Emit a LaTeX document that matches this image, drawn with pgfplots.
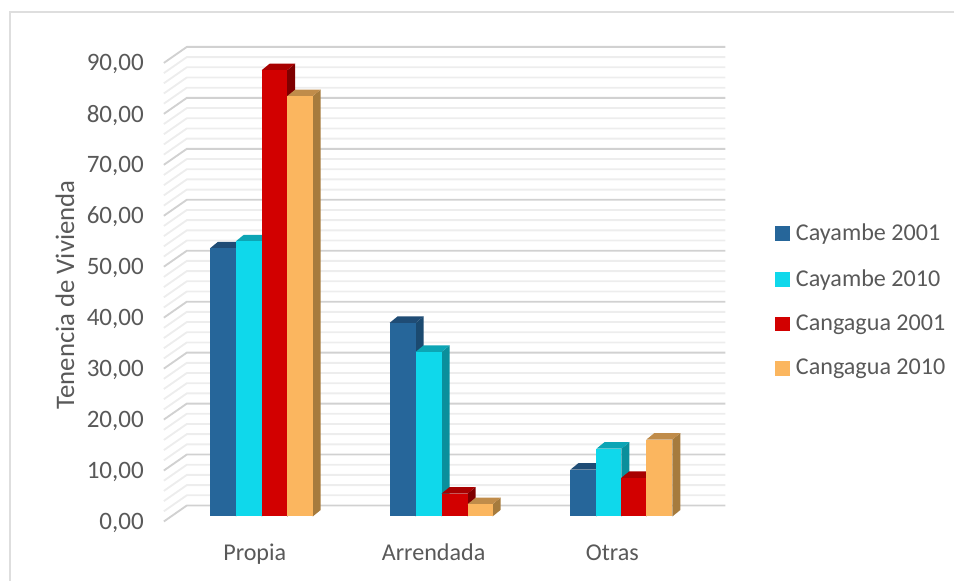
\documentclass[border=0pt]{standalone}
\usepackage{fontspec}
\setmainfont{Carlito}
\usepackage{pgfplots}
\pgfplotsset{compat=1.18}

\definecolor{txt}{HTML}{595959}
\definecolor{frontA}{HTML}{26669A}\definecolor{topA}{HTML}{1F4C75}\definecolor{sideA}{HTML}{1B4A70}
\definecolor{frontB}{HTML}{0FD8EB}\definecolor{topB}{HTML}{0CA5B5}\definecolor{sideB}{HTML}{0A8F9C}
\definecolor{frontC}{HTML}{D20000}\definecolor{topC}{HTML}{A80000}\definecolor{sideC}{HTML}{7F0000}
\definecolor{frontD}{HTML}{FBB65F}\definecolor{topD}{HTML}{C08C4A}\definecolor{sideD}{HTML}{A67B3D}

% x0, x1, value, series letter
\newcommand{\threedbar}[4]{%
  \pgfmathsetmacro{\xb}{#2+8}%
  \pgfmathsetmacro{\xa}{#1+8}%
  \pgfmathsetmacro{\vt}{#3+1.28}%
  \addplot[fill=side#4,draw=none,forget plot] coordinates {(#2,0) (#2,#3) (\xb,\vt) (\xb,1.28)} --cycle;
  \addplot[fill=top#4,draw=none,forget plot] coordinates {(#1,#3) (\xa,\vt) (\xb,\vt) (#2,#3)} --cycle;
  \addplot[fill=front#4,draw=none,forget plot] coordinates {(#1,0) (#1,#3) (#2,#3) (#2,0)} --cycle;
}

\begin{document}
\begin{tikzpicture}
\begin{axis}[
  scale only axis,width=716.25pt,height=436.5pt,
  xmin=0,xmax=955,ymin=-12.745,ymax=101.37,
  axis line style={draw=none},tick style={draw=none},
  axis x line*=bottom,axis y line*=left,
  clip=false,
  xtick={255,434,613},xticklabels={Propia,Arrendada,Otras},
  ytick={0,10,...,90},
  /pgf/number format/.cd,fixed,fixed zerofill,precision=2,use comma,assume math mode=true,
  /pgfplots/.cd,
  xticklabel style={anchor=base,yshift=16pt,font=\fontsize{18.1pt}{20pt}\selectfont,text=txt},
  yticklabel style={anchor=east,xshift=111.5pt,yshift=-4.7pt,font=\fontsize{18.8pt}{20pt}\selectfont,text=txt},
  ylabel={Tenencia de Vivienda},
  ylabel style={at={(axis cs:65,43.5)},anchor=center,font=\fontsize{20.1pt}{20pt}\selectfont,text=txt},
  legend style={at={(0.8125,0.615)},anchor=north west,draw=none,fill=none,
    font=\fontsize{18.1pt}{20pt}\selectfont,text=txt,row sep=20pt,
    inner sep=0pt,nodes={inner sep=0pt,anchor=west}},
  legend cell align=left,
  legend image code/.code={\fill[#1] (0pt,-5.2pt) rectangle (10.5pt,5.2pt); \path (15pt,0pt);},
]
\addlegendimage{frontA}\addlegendentry{Cayambe 2001}
\addlegendimage{frontB}\addlegendentry{Cayambe 2010}
\addlegendimage{frontC}\addlegendentry{Cangagua 2001}
\addlegendimage{frontD}\addlegendentry{Cangagua 2010}

% chart frame
\draw[black!13,line width=1.4pt] (axis cs:955,99) -- (axis cs:10,99) -- (axis cs:10,-12.745);

% walls: minor then major lines
\pgfplotsinvokeforeach{2,4,6,8,12,14,16,18,22,24,26,28,32,34,36,38,42,44,46,48,52,54,56,58,62,64,66,68,72,74,76,78,82,84,86,88}{
  \draw[black!7,line width=1.4pt] (axis cs:164,#1-0.98) -- (axis cs:187,#1+2.16) -- (axis cs:726,#1+2.16);
}
\pgfplotsinvokeforeach{0,10,...,90}{
  \draw[black!18,line width=1.4pt] (axis cs:164,#1-0.98) -- (axis cs:187,#1+2.16) -- (axis cs:726,#1+2.16);
}

% Propia
\threedbar{210}{236}{52.6}{A}
\threedbar{236}{262}{54.0}{B}
\threedbar{262}{287.5}{87.6}{C}
\threedbar{287.5}{313}{82.5}{D}
% Arrendada
\threedbar{390}{416}{38.0}{A}
\threedbar{416}{442}{32.3}{B}
\threedbar{442}{468}{4.5}{C}
\threedbar{468}{493}{2.4}{D}
% Otras
\threedbar{571}{597}{9.2}{A}
\threedbar{597}{622}{13.3}{B}
\threedbar{622}{647}{7.6}{C}
\threedbar{647}{673}{15.1}{D}
\end{axis}
\end{tikzpicture}
\end{document}
